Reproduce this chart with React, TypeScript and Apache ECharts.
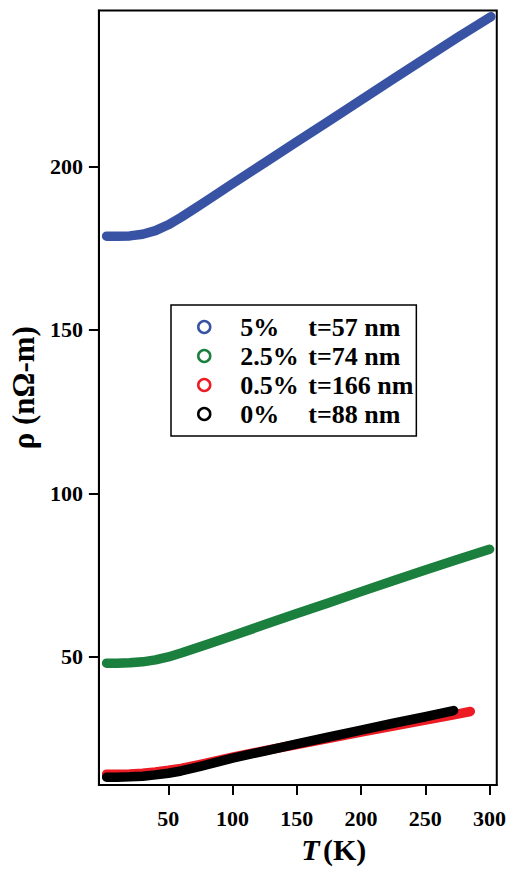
import React, { useEffect, useRef } from "react";
import * as echarts from "echarts";

const T_BLUE = [2, 10, 20, 30, 40, 50, 60, 70, 80, 90, 100, 125, 150, 175, 200, 225, 250, 275, 301];
const RHO_BLUE = [178.7, 178.7, 178.8, 179.3, 180.4, 182.2, 184.5, 187.0, 189.6, 192.2, 194.8, 201.2, 207.6, 214.0, 220.4, 226.8, 233.2, 239.5, 245.9];

const T_GREEN = [2, 10, 20, 30, 40, 50, 60, 70, 80, 100, 125, 150, 175, 200, 225, 250, 275, 300];
const RHO_GREEN = [48.0, 48.0, 48.1, 48.4, 49.0, 49.9, 51.1, 52.4, 53.7, 56.4, 59.8, 63.2, 66.5, 69.9, 73.2, 76.5, 79.7, 82.9];

const T_RED = [2, 10, 20, 30, 40, 50, 60, 75, 100, 125, 150, 175, 200, 225, 250, 270, 285];
const RHO_RED = [14.0, 14.0, 14.1, 14.3, 14.7, 15.2, 15.8, 17.0, 19.2, 21.2, 23.1, 25.0, 26.9, 28.7, 30.6, 32.0, 33.2];

const T_BLACK = [2, 10, 20, 30, 40, 50, 60, 75, 100, 125, 150, 175, 200, 225, 250, 272];
const RHO_BLACK = [13.1, 13.1, 13.2, 13.4, 13.8, 14.3, 15.0, 16.4, 18.9, 21.1, 23.3, 25.4, 27.5, 29.6, 31.6, 33.5];

const SERIES_NAMES = ["5%", "2.5%", "0.5%", "0%"];
const THICKNESS = ["t=57 nm", "t=74 nm", "t=166 nm", "t=88 nm"];
const COLORS = ["#3953a4", "#1b7f3e", "#ed1c24", "#000000"];

const X_TICKS = [50, 100, 150, 200, 250, 300];
const Y_TICKS = [50, 100, 150, 200];

const FONT = "Liberation Serif";

function zip(xs: number[], ys: number[]) {
  return xs.map((x, i) => [x, ys[i]]);
}

export default function App() {
  const ref = useRef<HTMLDivElement>(null);
  useEffect(() => {
    if (!ref.current) return;
    const chart = echarts.init(ref.current, null, { renderer: "svg" });
    const datasets = [
      zip(T_BLUE, RHO_BLUE),
      zip(T_GREEN, RHO_GREEN),
      zip(T_RED, RHO_RED),
      zip(T_BLACK, RHO_BLACK),
    ];
    const axisFont = { fontFamily: FONT, fontWeight: "bold" as const, fontSize: 22, color: "#000" };
    chart.setOption({
      animation: false,
      backgroundColor: "#fff",
      grid: {
        left: 95,
        right: 10.5,
        top: 10.5,
        bottom: 82,
        show: true,
        borderColor: "#000",
        borderWidth: 2,
      },
      legend: {
        orient: "vertical",
        left: 171,
        top: 305,
        icon: "circle",
        itemWidth: 12,
        itemHeight: 12,
        itemGap: 3,
        padding: [9, 3, 9, 26],
        borderColor: "#000",
        borderWidth: 1.5,
        backgroundColor: "#fff",
        data: SERIES_NAMES.map((n, i) => ({
          name: n,
          itemStyle: { color: "#fff", borderColor: COLORS[i], borderWidth: 2.5 },
        })),
        formatter: (name: string) => {
          const i = SERIES_NAMES.indexOf(name);
          return `{a|${name}}{b|${THICKNESS[i]}}`;
        },
        textStyle: {
          fontFamily: FONT,
          fontWeight: "bold",
          fontSize: 26,
          color: "#000",
          rich: {
            a: { fontFamily: FONT, fontWeight: "bold", fontSize: 26, lineHeight: 26, width: 68, padding: [0, 0, 0, 25], color: "#000" },
            b: { fontFamily: FONT, fontWeight: "bold", fontSize: 26, lineHeight: 26, color: "#000" },
          },
        },
      },
      xAxis: {
        type: "value",
        min: -4,
        max: 305.6,
        name: "{i|T} {n|(K)}",
        nameLocation: "middle",
        nameGap: 49,
        nameTextStyle: {
          padding: [0, 0, 0, 72],
          rich: {
            i: { fontFamily: FONT, fontWeight: "bold", fontStyle: "italic", fontSize: 30, color: "#000" },
            n: { fontFamily: FONT, fontWeight: "bold", fontSize: 30, color: "#000" },
          },
        },
        axisLine: { show: true, onZero: false, lineStyle: { color: "#000", width: 2 } },
        axisTick: { show: true, inside: false, length: 10, lineStyle: { color: "#000", width: 2 }, customValues: X_TICKS },
        axisLabel: { ...axisFont, margin: 22, customValues: X_TICKS },
        splitLine: { show: false },
      },
      yAxis: {
        type: "value",
        min: 10.7,
        max: 247.8,
        name: "ρ (nΩ-m)",
        nameLocation: "middle",
        nameGap: 50,
        nameRotate: 90,
        nameTextStyle: { fontFamily: FONT, fontWeight: "bold", fontSize: 31, color: "#000", padding: [0, 0, 0, 20] },
        axisLine: { show: true, onZero: false, lineStyle: { color: "#000", width: 2 } },
        axisTick: { show: true, inside: false, length: 10, lineStyle: { color: "#000", width: 2 }, customValues: Y_TICKS },
        axisLabel: { ...axisFont, margin: 16, customValues: Y_TICKS },
        splitLine: { show: false },
      },
      series: SERIES_NAMES.map((n, i) => ({
        name: n,
        type: "line",
        data: datasets[i],
        showSymbol: false,
        symbol: "circle",
        color: COLORS[i],
        lineStyle: { color: COLORS[i], width: 9.5, cap: "round", join: "round" },
        itemStyle: { color: COLORS[i] },
        z: 2 + i,
        silent: true,
      })),
    });
    return () => chart.dispose();
  }, []);
  return (
    <div
      ref={ref}
      style={{ position: "fixed", left: 0, top: 0, width: 509, height: 869 }}
    />
  );
}
